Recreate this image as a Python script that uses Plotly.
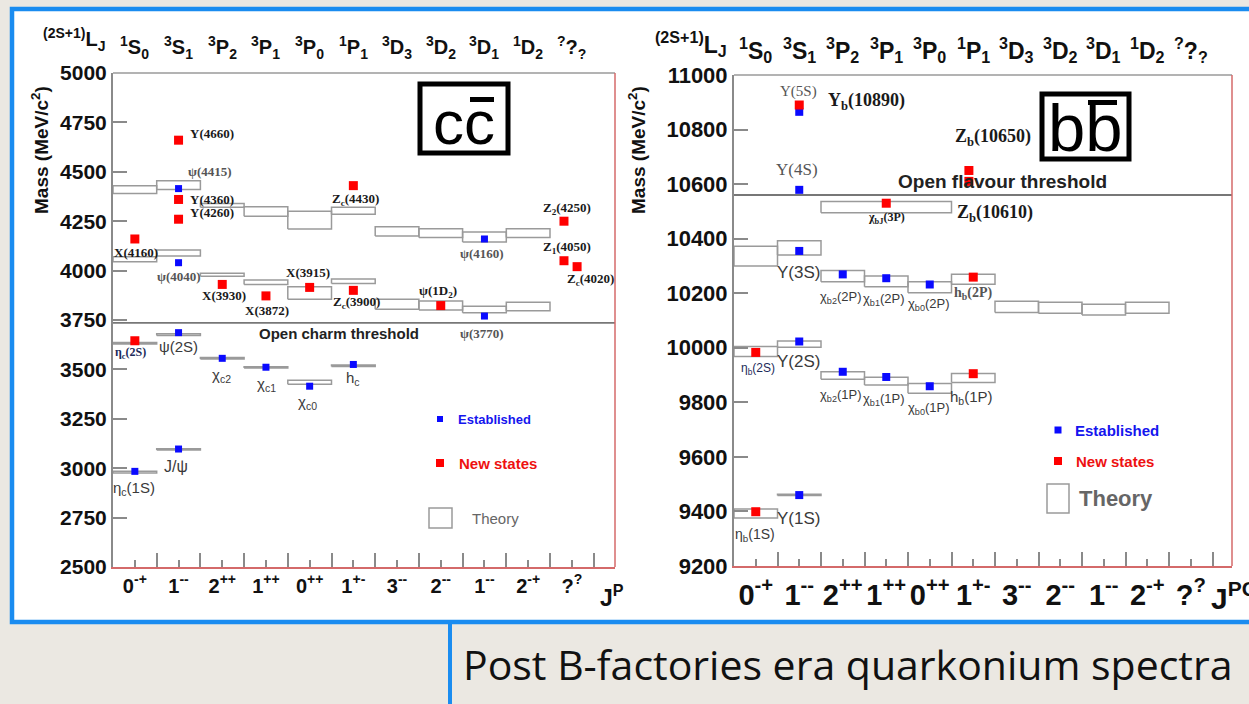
import plotly.graph_objects as go

W, H = 1249, 704

# ---------------- shared category axes ----------------
JPC = ["0<sup>-+</sup>", "1<sup>--</sup>", "2<sup>++</sup>", "1<sup>++</sup>", "0<sup>++</sup>",
       "1<sup>+-</sup>", "3<sup>--</sup>", "2<sup>--</sup>", "1<sup>--</sup>", "2<sup>-+</sup>",
       "?<sup>?</sup>"]
TERMS = ["<sup>1</sup>S<sub>0</sub>", "<sup>3</sup>S<sub>1</sub>", "<sup>3</sup>P<sub>2</sub>",
         "<sup>3</sup>P<sub>1</sub>", "<sup>3</sup>P<sub>0</sub>", "<sup>1</sup>P<sub>1</sub>",
         "<sup>3</sup>D<sub>3</sub>", "<sup>3</sup>D<sub>2</sub>", "<sup>3</sup>D<sub>1</sub>",
         "<sup>1</sup>D<sub>2</sub>", "<sup>?</sup>?<sub>?</sub>"]

# ---------------- charmonium ----------------
CC_TICKS = [2500, 2750, 3000, 3250, 3500, 3750, 4000, 4250, 4500, 4750, 5000]
CC_EST_NAMES = ["η<sub>c</sub>(1S)", "J/ψ", "ψ(2S)", "χ<sub>c2</sub>", "χ<sub>c1</sub>",
                "χ<sub>c0</sub>", "h<sub>c</sub>", "ψ(4040)", "ψ(4415)", "ψ(4160)", "ψ(3770)"]
CC_EST_COL = [0, 1, 1, 2, 3, 4, 5, 1, 1, 8, 8]
CC_EST_MASS = [2984, 3097, 3686, 3556, 3511, 3415, 3525, 4040, 4415, 4160, 3770]

CC_NEW_NAMES = ["η<sub>c</sub>(2S)", "X(4160)", "Y(4660)", "Y(4360)", "Y(4260)", "X(3930)",
                "X(3872)", "X(3915)", "Z<sub>c</sub>(4430)", "Z<sub>c</sub>(3900)",
                "ψ(1D<sub>2</sub>)", "Z<sub>2</sub>(4250)", "Z<sub>1</sub>(4050)",
                "Z<sub>c</sub>(4020)"]
CC_NEW_X = [0, 0, 1, 1, 1, 2, 3, 4, 5, 5, 7, 9.82, 9.82, 10.12]
CC_NEW_MASS = [3645, 4160, 4660, 4360, 4260, 3930, 3872, 3915, 4430, 3900, 3823, 4250, 4050, 4020]

# potential-model predictions: (first column, last column, low mass, high mass)
CC_THEORY = [
    (0, 0, 2976, 2984), (1, 1, 3092, 3099), (0, 0, 3628, 3636), (1, 1, 3672, 3680),
    (2, 2, 3553, 3560), (3, 3, 3507, 3514), (4, 4, 3425, 3445), (5, 5, 3515, 3522),
    (0, 0, 4045, 4070), (1, 1, 4074, 4104), (0, 0, 4390, 4430), (1, 1, 4410, 4455),
    (2, 2, 3972, 3986), (3, 3, 3930, 3952), (4, 4, 3855, 3918), (5, 5, 3935, 3957),
    (2, 2, 4320, 4340), (3, 3, 4275, 4323), (4, 4, 4210, 4300), (5, 5, 4285, 4320),
    (6, 6, 3805, 3855), (7, 7, 3800, 3846), (8, 8, 3787, 3820), (9, 9, 3797, 3840),
    (6, 6, 4175, 4222), (7, 7, 4167, 4212), (8, 8, 4145, 4195), (9, 9, 4167, 4212),
]
CC_THRESHOLD = 3735

# ---------------- bottomonium ----------------
BB_TICKS = [9200, 9400, 9600, 9800, 10000, 10200, 10400, 10600, 10800, 11000]
BB_EST_NAMES = ["Υ(1S)", "Υ(2S)", "Υ(3S)", "Υ(4S)", "Υ(5S)", "χ<sub>b2</sub>(1P)",
                "χ<sub>b1</sub>(1P)", "χ<sub>b0</sub>(1P)", "χ<sub>b2</sub>(2P)",
                "χ<sub>b1</sub>(2P)", "χ<sub>b0</sub>(2P)"]
BB_EST_COL = [1, 1, 1, 1, 1, 2, 3, 4, 2, 3, 4]
BB_EST_MASS = [9460, 10023, 10355, 10579, 10865, 9912, 9893, 9859, 10269, 10255, 10232]

BB_NEW_NAMES = ["η<sub>b</sub>(1S)", "η<sub>b</sub>(2S)", "h<sub>b</sub>(1P)", "h<sub>b</sub>(2P)",
                "χ<sub>bJ</sub>(3P)", "Υ<sub>b</sub>(10890)", "Z<sub>b</sub>(10610)",
                "Z<sub>b</sub>(10650)"]
BB_NEW_X = [0, 0, 5, 5, 3, 1, 4.9, 4.9]
BB_NEW_MASS = [9399, 9983, 9905, 10259, 10530, 10890, 10610, 10650]

BB_THEORY = [
    (0, 0, 9376, 9409), (1, 1, 9458, 9463), (0, 0, 9968, 10005), (1, 1, 10002, 10025),
    (0, 0, 10300, 10372), (1, 1, 10340, 10392),
    (2, 2, 9885, 9912), (3, 3, 9864, 9892), (4, 4, 9833, 9869), (5, 5, 9873, 9906),
    (2, 2, 10242, 10283), (3, 3, 10224, 10263), (4, 4, 10202, 10242), (5, 5, 10233, 10270),
    (6, 6, 10129, 10171), (7, 7, 10127, 10167), (8, 8, 10120, 10160), (9, 9, 10127, 10167),
    (2, 4, 10495, 10536),
]
BB_THRESHOLD = 10560

# ---------------- styling ----------------
BLUE, RED = "#0a0aff", "#ff0000"
FRAME_BLUE = "#1a8cf0"
GRID_GRAY = "#8a8a8a"
EDGE_RED = "#d46a6a"
SANS, SERIF = "Liberation Sans", "Liberation Serif"

SERIF_DARK = dict(family=SERIF, color="#1a1a1a", weight="bold")
SERIF_GRAY = dict(family=SERIF, color="#555555", weight="bold")
SANS_GRAY = dict(family=SANS, color="#3a3a3a")

# label placement relative to its marker: (xanchor, xshift px, yshift px, font, size)
CC_LABEL_STYLE = {
    "η<sub>c</sub>(1S)": ("center", -1, -17, SANS_GRAY, 15),
    "J/ψ": ("center", -3, -17, SANS_GRAY, 16),
    "ψ(2S)": ("center", 0, -14, SANS_GRAY, 15),
    "χ<sub>c2</sub>": ("center", -1, -17, SANS_GRAY, 15),
    "χ<sub>c1</sub>": ("center", 1, -17, SANS_GRAY, 15),
    "χ<sub>c0</sub>": ("center", -2, -16, SANS_GRAY, 15),
    "h<sub>c</sub>": ("center", 0, -14, SANS_GRAY, 15),
    "ψ(4040)": ("center", 0, -14, SERIF_GRAY, 13),
    "ψ(4415)": ("left", 7, 17, SERIF_GRAY, 13),
    "ψ(4160)": ("center", -2, -15, SERIF_GRAY, 13),
    "ψ(3770)": ("center", -2, -17, SERIF_GRAY, 13),
    "η<sub>c</sub>(2S)": ("center", -4, -12, dict(family=SERIF, color="#1c2a5a", weight="bold"), 12),
    "X(4160)": ("center", 1, -14, SERIF_DARK, 13),
    "Y(4660)": ("left", 9, 7, SERIF_DARK, 13),
    "Y(4360)": ("left", 9, 0, SERIF_DARK, 13),
    "Y(4260)": ("left", 9, 7, SERIF_DARK, 13),
    "X(3930)": ("center", 2, -11, SERIF_DARK, 13),
    "X(3872)": ("center", 1, -15, SERIF_DARK, 13),
    "X(3915)": ("center", -2, 15, SERIF_DARK, 13),
    "Z<sub>c</sub>(4430)": ("center", 2, -14, SERIF_DARK, 13),
    "Z<sub>c</sub>(3900)": ("center", 3, -12, SERIF_DARK, 13),
    "ψ(1D<sub>2</sub>)": ("center", -3, 14, SERIF_DARK, 13),
    "Z<sub>2</sub>(4250)": ("center", 3, 13, SERIF_DARK, 13),
    "Z<sub>1</sub>(4050)": ("center", 3, 13, SERIF_DARK, 13),
    "Z<sub>c</sub>(4020)": ("center", 13, -13, SERIF_DARK, 13),
}
BB_LABEL_STYLE = {
    "Υ(1S)": ("center", -1, -23, SANS_GRAY, 17),
    "Υ(2S)": ("center", -1, -20, SANS_GRAY, 17),
    "Υ(3S)": ("center", -1, -22, SANS_GRAY, 17),
    "Υ(4S)": ("center", -2, 20, dict(family=SERIF, color="#555555"), 17),
    "Υ(5S)": ("center", -1, 20, dict(family=SERIF, color="#555555"), 15),
    "χ<sub>b2</sub>(1P)": ("center", -2, -24, SANS_GRAY, 13),
    "χ<sub>b1</sub>(1P)": ("center", -2, -23, SANS_GRAY, 13),
    "χ<sub>b0</sub>(1P)": ("center", -1, -22, SANS_GRAY, 13),
    "χ<sub>b2</sub>(2P)": ("center", -2, -23, SANS_GRAY, 13),
    "χ<sub>b1</sub>(2P)": ("center", -2, -21, SANS_GRAY, 13),
    "χ<sub>b0</sub>(2P)": ("center", -1, -20, SANS_GRAY, 13),
    "η<sub>b</sub>(1S)": ("center", -1, -23, SANS_GRAY, 14),
    "η<sub>b</sub>(2S)": ("center", 2, -17, dict(family=SANS, color="#1c2a5a"), 12),
    "h<sub>b</sub>(1P)": ("center", -2, -24, SANS_GRAY, 15),
    "h<sub>b</sub>(2P)": ("center", 0, -16, SERIF_GRAY, 14),
    "χ<sub>bJ</sub>(3P)": ("center", 0, -15, SERIF_DARK, 12),
    "Υ<sub>b</sub>(10890)": ("left", 27, 4, SERIF_DARK, 18),
    "Z<sub>b</sub>(10610)": ("left", -14, -32, SERIF_DARK, 18),
    "Z<sub>b</sub>(10650)": ("left", -16, 33, SERIF_DARK, 18),
}


def px(x):
    return x / W


def py(y):
    return 1 - y / H


def text_at(x, y, text, font, xanchor="center", yanchor="middle", **kw):
    """Paper-positioned label, given in page pixels."""
    return dict(x=px(x), y=py(y), xref="paper", yref="paper", text=text, showarrow=False,
                xanchor=xanchor, yanchor=yanchor, font=font, **kw)


def theory_path(boxes):
    xs, ys = [], []
    for c0, c1, lo, hi in boxes:
        a, b = c0 - 0.5, c1 + 0.5
        xs += [a, b, b, a, a, None]
        ys += [lo, lo, hi, hi, lo, None]
    return xs, ys


fig = go.Figure()
annotations = []
shapes = []

panels = [
    dict(xa="x", ya="y", theory=CC_THEORY,
         est=(CC_EST_COL, CC_EST_MASS, CC_EST_NAMES), new=(CC_NEW_X, CC_NEW_MASS, CC_NEW_NAMES),
         styles=CC_LABEL_STYLE, blue=7, red=9),
    dict(xa="x2", ya="y2", theory=BB_THEORY,
         est=(BB_EST_COL, BB_EST_MASS, BB_EST_NAMES), new=(BB_NEW_X, BB_NEW_MASS, BB_NEW_NAMES),
         styles=BB_LABEL_STYLE, blue=8, red=9),
]

for p in panels:
    tx, ty = theory_path(p["theory"])
    fig.add_trace(go.Scatter(x=tx, y=ty, mode="lines", xaxis=p["xa"], yaxis=p["ya"],
                             line=dict(color="#9a9a9a", width=1.5), hoverinfo="skip",
                             showlegend=False))
    ex, em, en = p["est"]
    fig.add_trace(go.Scatter(x=ex, y=em, mode="markers", xaxis=p["xa"], yaxis=p["ya"],
                             marker=dict(symbol="square", size=p["blue"], color=BLUE),
                             text=en, showlegend=False))
    nx, nm, nn = p["new"]
    fig.add_trace(go.Scatter(x=nx, y=nm, mode="markers", xaxis=p["xa"], yaxis=p["ya"],
                             marker=dict(symbol="square", size=p["red"], color=RED),
                             text=nn, showlegend=False))
    for xs, ms, names in (p["est"], p["new"]):
        for x, m, name in zip(xs, ms, names):
            anchor, dx, dy, font, size = p["styles"][name]
            annotations.append(dict(x=x, y=m, xref=p["xa"], yref=p["ya"], text=name,
                                    showarrow=False, xanchor=anchor, yanchor="middle",
                                    xshift=dx, yshift=dy, font=dict(size=size, **font)))

# threshold lines
for ya, xa, thr in (("y", "x", CC_THRESHOLD), ("y2", "x2", BB_THRESHOLD)):
    shapes.append(dict(type="line", xref=f"{xa} domain", yref=ya, x0=0, x1=1, y0=thr, y1=thr,
                       line=dict(color="#777777", width=1.8)))
annotations.append(text_at(339, 333, "Open charm threshold",
                           dict(family=SANS, size=15, color="#222", weight="bold")))
annotations.append(text_at(1002, 181, "Open flavour threshold",
                           dict(family=SANS, size=19, color="#222", weight="bold")))

# ---------------- page decoration ----------------
shapes.insert(0, dict(type="rect", xref="paper", yref="paper", x0=px(12), x1=px(1270),
                      y0=py(622), y1=py(9), fillcolor="white",
                      line=dict(color=FRAME_BLUE, width=4.5), layer="below"))
shapes.append(dict(type="line", xref="paper", yref="paper", x0=px(450), x1=px(450),
                   y0=py(624), y1=py(712), line=dict(color=FRAME_BLUE, width=4)))
annotations.append(text_at(461, 664, "Post B-factories era quarkonium spectra",
                           dict(family="Open Sans", size=41, color="#111"), xanchor="left"))

# frames: grey top edge, red right edge
for (l, r, t, b) in ((113, 615, 73, 567), (734, 1232, 75, 566)):
    shapes.append(dict(type="line", xref="paper", yref="paper", x0=px(l), x1=px(r),
                       y0=py(t), y1=py(t), line=dict(color="#9a9a9a", width=1.5)))
    shapes.append(dict(type="line", xref="paper", yref="paper", x0=px(r), x1=px(r),
                       y0=py(t), y1=py(b), line=dict(color=EDGE_RED, width=1.5)))

# quark content boxes
for (l, r, t, b, txt, size, bar, cy) in (
        (420, 508, 84, 153, "cc", 62, (470, 494, 97, 102), 123),
        (1042, 1129, 94, 159, "bb", 67, (1088, 1117, 100, 105), 127)):
    shapes.append(dict(type="rect", xref="paper", yref="paper", x0=px(l), x1=px(r),
                       y0=py(b), y1=py(t), line=dict(color="black", width=5)))
    shapes.append(dict(type="rect", xref="paper", yref="paper", x0=px(bar[0]), x1=px(bar[1]),
                       y0=py(bar[3]), y1=py(bar[2]), fillcolor="black", line=dict(width=0)))
    annotations.append(text_at((l + r) / 2, cy, txt, dict(family=SANS, size=size, color="black")))

# legends
for (bx, by_e, by_n, tb, txs, fe, fn, ft, bsz, rsz) in (
        (440, 419, 463, (429, 452, 508, 528), (456, 470), 13, 15, 15, 6, 8),
        (1058, 430, 461, (1047, 1069, 484, 513), (1073, 1077), 15, 15, 22, 7, 8)):
    shapes.append(dict(type="rect", xref="paper", yref="paper",
                       x0=px(bx - bsz / 2), x1=px(bx + bsz / 2), y0=py(by_e + bsz / 2),
                       y1=py(by_e - bsz / 2), fillcolor=BLUE, line=dict(width=0)))
    shapes.append(dict(type="rect", xref="paper", yref="paper",
                       x0=px(bx - rsz / 2), x1=px(bx + rsz / 2), y0=py(by_n + rsz / 2),
                       y1=py(by_n - rsz / 2), fillcolor=RED, line=dict(width=0)))
    shapes.append(dict(type="rect", xref="paper", yref="paper", x0=px(tb[0]), x1=px(tb[1]),
                       y0=py(tb[3]), y1=py(tb[2]), line=dict(color="#9a9a9a", width=1.5)))
    annotations.append(text_at(txs[0], by_e, "Established",
                               dict(family=SANS, size=fe, color="#1515ee", weight="bold"),
                               xanchor="left"))
    annotations.append(text_at(txs[0] + 1, by_n, "New states",
                               dict(family=SANS, size=fn, color="#ee1111", weight="bold"),
                               xanchor="left"))
    annotations.append(text_at(txs[1], (tb[2] + tb[3]) / 2, "Theory",
                               dict(family=SANS, size=ft, color="#666666",
                                    weight="bold" if ft > 18 else "normal"),
                               xanchor="left"))

# spectroscopic terms above each column
for xa, yc, size in (("x", 47, 20), ("x2", 50, 23)):
    for i, t in enumerate(TERMS):
        annotations.append(dict(x=i, y=py(yc), xref=xa, yref="paper", text=t, showarrow=False,
                                xanchor="center", yanchor="middle",
                                font=dict(family=SANS, size=size, color="#111", weight="bold")))

BOLD = dict(family=SANS, color="#111", weight="bold")
annotations += [
    text_at(107, 40, "<sup>(2S+1)</sup>L<sub>J</sub>", dict(size=20, **BOLD), xanchor="right"),
    text_at(729, 44, "<sup>(2S+1)</sup>L<sub>J</sub>", dict(size=23, **BOLD), xanchor="right"),
    text_at(40, 150, "Mass (MeV/c<sup>2</sup>)", dict(size=19, **BOLD), textangle=-90),
    text_at(637, 150, "Mass (MeV/c<sup>2</sup>)", dict(size=19, **BOLD), textangle=-90),
    text_at(598, 596, "J<sup>P</sup>", dict(size=23, **BOLD), xanchor="left"),
    text_at(1209, 596, "J<sup>PC</sup>", dict(size=30, **BOLD), xanchor="left"),
]


def cat_axis(domain, hi, size, standoff):
    return dict(domain=domain, range=[-0.5, hi], tickmode="array", tickvals=list(range(11)),
                ticktext=JPC, ticks="inside", ticklen=7, tickwidth=1.5, tickcolor=GRID_GRAY,
                minor=dict(tickmode="linear", tick0=0.5, dtick=1, ticks="inside", ticklen=14,
                           tickwidth=1.5, tickcolor=GRID_GRAY),
                showline=True, linecolor=EDGE_RED, linewidth=1.5, showgrid=False, zeroline=False,
                tickfont=dict(family=SANS, size=size, color="#111", weight="bold"),
                ticklabelstandoff=standoff, automargin=False, fixedrange=True)


def mass_axis(domain, rng, ticks, size):
    return dict(domain=domain, range=rng, tickmode="array", tickvals=ticks,
                ticktext=[str(t) for t in ticks], ticks="inside",
                ticklen=14, tickwidth=1.5, tickcolor=GRID_GRAY, showline=True,
                linecolor=GRID_GRAY, linewidth=2, showgrid=False, zeroline=False,
                tickfont=dict(family=SANS, size=size, color="#111", weight="bold"),
                automargin=False, fixedrange=True)


fig.update_layout(
    width=W, height=H, margin=dict(l=0, r=0, t=0, b=0, autoexpand=False),
    paper_bgcolor="#ebe8e2", plot_bgcolor="rgba(0,0,0,0)",
    xaxis=dict(cat_axis([px(113), px(615)], -0.5 + 502 / 43.7, 20, 0), anchor="y"),
    yaxis=dict(mass_axis([py(567), py(73)], [2500, 5000], CC_TICKS, 21), anchor="x"),
    xaxis2=dict(cat_axis([px(734), px(1232)], -0.5 + 498 / 43.5, 29, 2), anchor="y2"),
    yaxis2=dict(mass_axis([py(566), py(75)], [9200, 11000], BB_TICKS, 22), anchor="x2"),
    shapes=shapes, annotations=annotations, showlegend=False,
)

fig.write_html("out.html")
